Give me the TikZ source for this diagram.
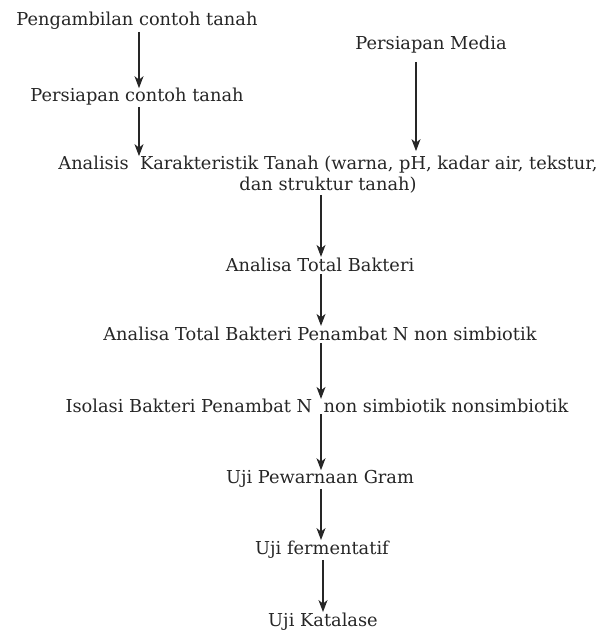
\documentclass[tikz,border=0pt]{standalone}
\usepackage{fontspec}
\setmainfont{DejaVu Serif}
\usetikzlibrary{arrows.meta}

\begin{document}
\begin{tikzpicture}[x=1pt, y=-1pt,
	step text/.style={font=\fontsize{17.8}{21}\selectfont, text=black!85, inner sep=0pt, align=center},
	flow/.style={line width=1.3pt, color=black!85, -{Stealth[length=12pt,width=9pt,inset=3.5pt]}}]
		%%%%% START %%%%%
		\useasboundingbox (0, 0) rectangle (603, 631);
		
		\coordinate (leftaxis) at (139, 0);
		\coordinate (mediaaxis) at (416, 0);
		\coordinate (mainaxis) at (321, 0);
		
		\node[step text] (ambil) at (137, 21) {Pengambilan contoh tanah};
		\node[step text] (siapcontoh) at (137, 97) {Persiapan contoh tanah};
		\node[step text] (media) at (431, 45) {Persiapan Media};
		
		\node[step text] (karakter) at (328, 175) {Analisis\ \ Karakteristik Tanah (warna, pH, kadar air, tekstur,\\dan struktur tanah)};
		
		\node[step text] (totalbak) at (320, 265) {Analisa Total Bakteri};
		\node[step text] (totaln) at (320, 334) {Analisa Total Bakteri Penambat N non simbiotik};
		\node[step text] (isolasi) at (317, 406) {Isolasi Bakteri Penambat N\ \ non simbiotik nonsimbiotik};
		
		\node[step text] (gram) at (320, 479) {Uji Pewarnaan Gram};
		\node[step text] (ferment) at (322, 550) {Uji fermentatif};
		\node[step text] (katalase) at (323, 622) {Uji Katalase};
		
		\draw[flow] ([yshift=-2]ambil.south -| leftaxis) -- ([yshift=0]siapcontoh.north -| leftaxis);
		\draw[flow] ([yshift=-1]siapcontoh.south -| leftaxis) -- ([yshift=0]karakter.north -| leftaxis);
		\draw[flow] ([yshift=-8]media.south -| mediaaxis) -- ([yshift=5]karakter.north -| mediaaxis);
		
		\draw[flow] ([yshift=-1]karakter.south -| mainaxis) -- ([yshift=1]totalbak.north -| mainaxis);
		\draw[flow] ([yshift=-2]totalbak.south -| mainaxis) -- ([yshift=1]totaln.north -| mainaxis);
		\draw[flow] ([yshift=-2]totaln.south -| mainaxis) -- ([yshift=0]isolasi.north -| mainaxis);
		\draw[flow] ([yshift=-1]isolasi.south -| mainaxis) -- ([yshift=0]gram.north -| mainaxis);
		\draw[flow] ([yshift=-1]gram.south -| mainaxis) -- ([yshift=1]ferment.north -| mainaxis);
		\draw[flow] ([yshift=-1]ferment.south -| 323,0) -- ([yshift=1]katalase.north -| 323,0);
		%%%%% END %%%%%
	\end{tikzpicture}
\end{document}
